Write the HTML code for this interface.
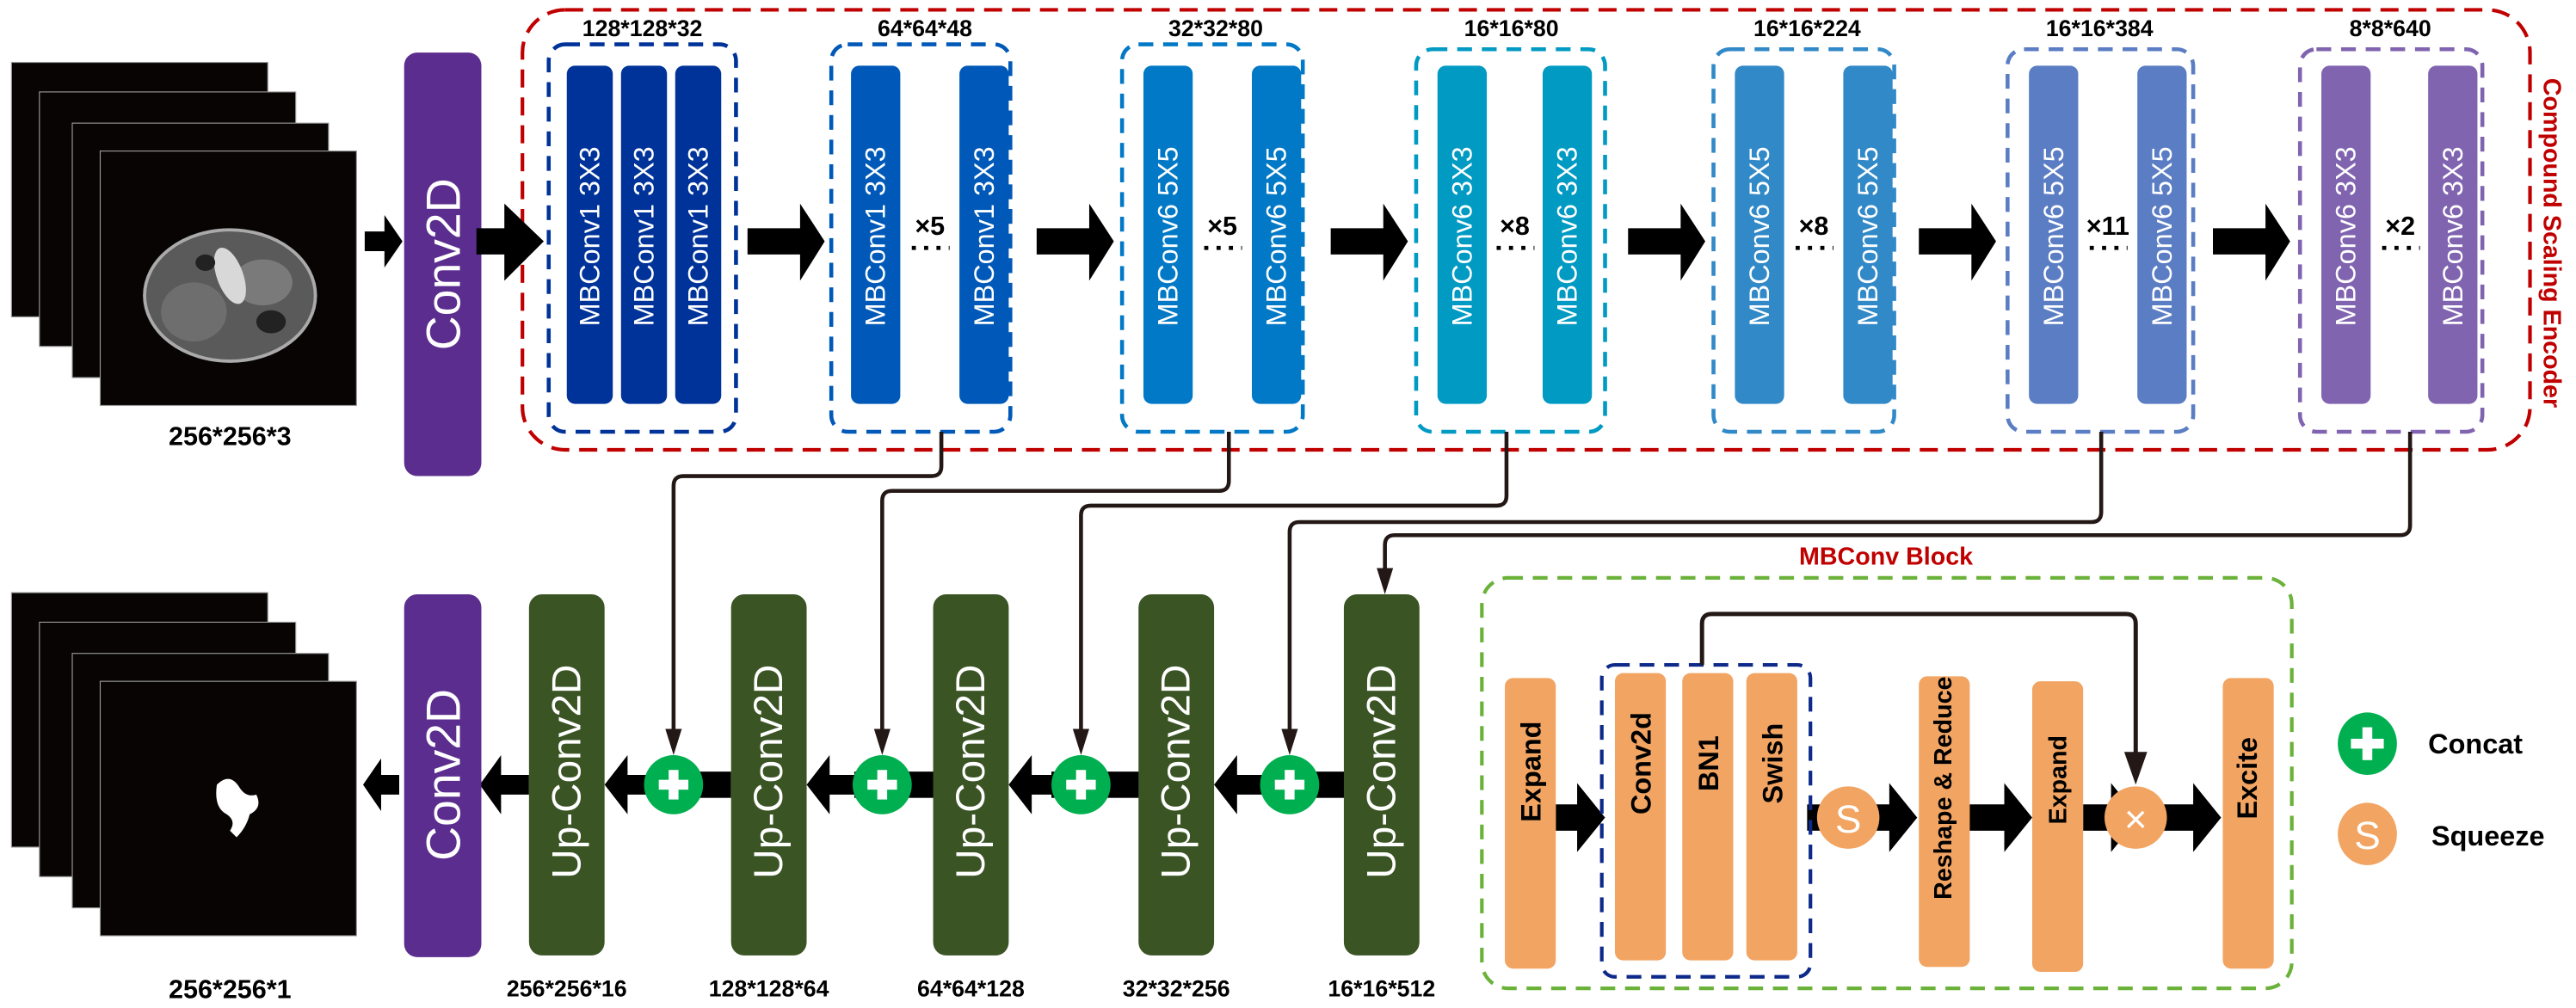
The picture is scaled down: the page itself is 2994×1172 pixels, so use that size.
<!DOCTYPE html>
<html><head><meta charset="utf-8"><style>
html,body{margin:0;padding:0;background:#fff;}
svg{display:block;}
text{font-family:"Liberation Sans",Arial,sans-serif;}
.w{fill:#fff;font-size:17px;}
.u{fill:#fff;font-size:25px;}
.lab{font-weight:bold;font-size:14px;fill:#000;font-family:"Liberation Sans Narrow","Liberation Sans",sans-serif;}
.ob{fill:#000;font-weight:bold;font-size:17px;}
.x{fill:#000;font-weight:bold;font-size:16px;font-family:"Liberation Sans Narrow","Liberation Sans",sans-serif;}
</style></head><body>
<svg width="2994" height="1172" viewBox="0 0 1568 614" preserveAspectRatio="none" xmlns="http://www.w3.org/2000/svg">
<!-- input stack -->
<rect x="7" y="38" width="156" height="155" fill="#080404" stroke="#999" stroke-width="0.6"/>
<rect x="24" y="56" width="156" height="155" fill="#080404" stroke="#999" stroke-width="0.6"/>
<rect x="44" y="75" width="156" height="155" fill="#080404" stroke="#999" stroke-width="0.6"/>
<rect x="61" y="92" width="156" height="155" fill="#080404" stroke="#999" stroke-width="0.6"/>
<ellipse cx="140" cy="180" rx="52" ry="40" fill="#5a5a5a" stroke="#aaa" stroke-width="2"/>
<ellipse cx="118" cy="190" rx="20" ry="18" fill="#6e6e6e"/>
<ellipse cx="160" cy="172" rx="18" ry="14" fill="#7a7a7a"/>
<ellipse cx="140" cy="168" rx="8" ry="18" fill="#d8d8d8" transform="rotate(-20 140 168)"/>
<ellipse cx="165" cy="196" rx="9" ry="7" fill="#222"/>
<ellipse cx="125" cy="160" rx="6" ry="5" fill="#222"/>
<text x="140" y="271" text-anchor="middle" class="lab" style="font-size:16px">256*256*3</text>
<!-- output stack -->
<rect x="7" y="361" width="156" height="155" fill="#080404" stroke="#999" stroke-width="0.6"/>
<rect x="24" y="379" width="156" height="155" fill="#080404" stroke="#999" stroke-width="0.6"/>
<rect x="44" y="398" width="156" height="155" fill="#080404" stroke="#999" stroke-width="0.6"/>
<rect x="61" y="415" width="156" height="155" fill="#080404" stroke="#999" stroke-width="0.6"/>
<path d="M132 478 q8 -8 14 2 q4 6 10 4 q4 8 -4 12 q-2 8 -8 14 l-4 -4 q4 -6 -2 -10 q-8 -4 -6 -18z" fill="#fff"/>
<text x="140" y="608" text-anchor="middle" class="lab" style="font-size:16px">256*256*1</text>

<!-- encoder red box -->
<rect x="318" y="6" width="1222" height="268" rx="26" fill="none" stroke="#c00000" stroke-width="2.2" stroke-dasharray="11 6"/>
<text transform="translate(1553 148) rotate(90)" text-anchor="middle" dominant-baseline="central" style="font-weight:bold;font-size:15px;fill:#c00000">Compound Scaling Encoder</text>

<!-- Conv2D top -->
<rect x="246" y="32" width="47" height="258" rx="8" fill="#5b2d8e"/>
<text transform="translate(270 161) rotate(-90)" text-anchor="middle" dominant-baseline="central" class="w" style="font-size:29px">Conv2D</text>

<!-- big arrows top -->
<g fill="#000">
<polygon points="222,141 234,141 234,131 245,147 234,163 234,153 222,153"/>
<polygon points="290,139 307,139 307,124 331,147 307,171 307,155 290,155"/>
<polygon points="455,139 487,139 487,124 502,147 487,171 487,155 455,155"/>
<polygon points="631,139 663,139 663,124 678,147 663,171 663,155 631,155"/>
<polygon points="810,139 842,139 842,124 857,147 842,171 842,155 810,155"/>
<polygon points="991,139 1023,139 1023,124 1038,147 1023,171 1023,155 991,155"/>
<polygon points="1168,139 1200,139 1200,124 1215,147 1200,171 1200,155 1168,155"/>
<polygon points="1347,139 1379,139 1379,124 1394,147 1379,171 1379,155 1347,155"/>
</g>

<!-- block1 -->
<text x="391" y="22" text-anchor="middle" class="lab">128*128*32</text>
<rect x="334" y="27" width="114" height="236" rx="10" fill="none" stroke="#003399" stroke-width="2.4" stroke-dasharray="9 6"/>
<rect x="345" y="40" width="28" height="206" rx="5" fill="#003399"/>
<rect x="378" y="40" width="28" height="206" rx="5" fill="#003399"/>
<rect x="411" y="40" width="28" height="206" rx="5" fill="#003399"/>
<text transform="translate(359 144) rotate(-90)" text-anchor="middle" dominant-baseline="central" class="w">MBConv1  3X3</text>
<text transform="translate(392 144) rotate(-90)" text-anchor="middle" dominant-baseline="central" class="w">MBConv1  3X3</text>
<text transform="translate(425 144) rotate(-90)" text-anchor="middle" dominant-baseline="central" class="w">MBConv1  3X3</text>

<g>
<text x="563" y="22" text-anchor="middle" class="lab">64*64*48</text>
<rect x="506" y="27" width="109" height="236" rx="10" fill="none" stroke="#0059b8" stroke-width="2.4" stroke-dasharray="9 6"/>
<rect x="518" y="40" width="30" height="206" rx="5" fill="#0059b8"/>
<rect x="584" y="40" width="30" height="206" rx="5" fill="#0059b8"/>
<text transform="translate(533 144) rotate(-90)" text-anchor="middle" dominant-baseline="central" class="w">MBConv1  3X3</text>
<text transform="translate(599 144) rotate(-90)" text-anchor="middle" dominant-baseline="central" class="w">MBConv1  3X3</text>
<text x="566" y="143" text-anchor="middle" class="x">×5</text>
<line x1="555" y1="151" x2="578" y2="151" stroke="#000" stroke-width="2.5" stroke-dasharray="2.5 5"/>
</g>
<g>
<text x="740" y="22" text-anchor="middle" class="lab">32*32*80</text>
<rect x="683" y="27" width="110" height="236" rx="10" fill="none" stroke="#0279c6" stroke-width="2.4" stroke-dasharray="9 6"/>
<rect x="696" y="40" width="30" height="206" rx="5" fill="#0279c6"/>
<rect x="762" y="40" width="30" height="206" rx="5" fill="#0279c6"/>
<text transform="translate(711 144) rotate(-90)" text-anchor="middle" dominant-baseline="central" class="w">MBConv6  5X5</text>
<text transform="translate(777 144) rotate(-90)" text-anchor="middle" dominant-baseline="central" class="w">MBConv6  5X5</text>
<text x="744" y="143" text-anchor="middle" class="x">×5</text>
<line x1="733" y1="151" x2="756" y2="151" stroke="#000" stroke-width="2.5" stroke-dasharray="2.5 5"/>
</g>
<g>
<text x="920" y="22" text-anchor="middle" class="lab">16*16*80</text>
<rect x="862" y="30" width="115" height="233" rx="10" fill="none" stroke="#009ac3" stroke-width="2.4" stroke-dasharray="9 6"/>
<rect x="875" y="40" width="30" height="206" rx="5" fill="#009ac3"/>
<rect x="939" y="40" width="30" height="206" rx="5" fill="#009ac3"/>
<text transform="translate(890 144) rotate(-90)" text-anchor="middle" dominant-baseline="central" class="w">MBConv6  3X3</text>
<text transform="translate(954 144) rotate(-90)" text-anchor="middle" dominant-baseline="central" class="w">MBConv6  3X3</text>
<text x="922" y="143" text-anchor="middle" class="x">×8</text>
<line x1="911" y1="151" x2="934" y2="151" stroke="#000" stroke-width="2.5" stroke-dasharray="2.5 5"/>
</g>
<g>
<text x="1100" y="22" text-anchor="middle" class="lab">16*16*224</text>
<rect x="1043" y="30" width="110" height="233" rx="10" fill="none" stroke="#3189c8" stroke-width="2.4" stroke-dasharray="9 6"/>
<rect x="1056" y="40" width="30" height="206" rx="5" fill="#3189c8"/>
<rect x="1122" y="40" width="30" height="206" rx="5" fill="#3189c8"/>
<text transform="translate(1071 144) rotate(-90)" text-anchor="middle" dominant-baseline="central" class="w">MBConv6  5X5</text>
<text transform="translate(1137 144) rotate(-90)" text-anchor="middle" dominant-baseline="central" class="w">MBConv6  5X5</text>
<text x="1104" y="143" text-anchor="middle" class="x">×8</text>
<line x1="1093" y1="151" x2="1116" y2="151" stroke="#000" stroke-width="2.5" stroke-dasharray="2.5 5"/>
</g>
<g>
<text x="1278" y="22" text-anchor="middle" class="lab">16*16*384</text>
<rect x="1222" y="30" width="113" height="233" rx="10" fill="none" stroke="#5b7dc4" stroke-width="2.4" stroke-dasharray="9 6"/>
<rect x="1235" y="40" width="30" height="206" rx="5" fill="#5b7dc4"/>
<rect x="1301" y="40" width="30" height="206" rx="5" fill="#5b7dc4"/>
<text transform="translate(1250 144) rotate(-90)" text-anchor="middle" dominant-baseline="central" class="w">MBConv6  5X5</text>
<text transform="translate(1316 144) rotate(-90)" text-anchor="middle" dominant-baseline="central" class="w">MBConv6  5X5</text>
<text x="1283" y="143" text-anchor="middle" class="x">×11</text>
<line x1="1272" y1="151" x2="1295" y2="151" stroke="#000" stroke-width="2.5" stroke-dasharray="2.5 5"/>
</g>
<g>
<text x="1455" y="22" text-anchor="middle" class="lab">8*8*640</text>
<rect x="1400" y="30" width="111" height="233" rx="10" fill="none" stroke="#8064b0" stroke-width="2.4" stroke-dasharray="9 6"/>
<rect x="1413" y="40" width="30" height="206" rx="5" fill="#8064b0"/>
<rect x="1478" y="40" width="30" height="206" rx="5" fill="#8064b0"/>
<text transform="translate(1428 144) rotate(-90)" text-anchor="middle" dominant-baseline="central" class="w">MBConv6  3X3</text>
<text transform="translate(1493 144) rotate(-90)" text-anchor="middle" dominant-baseline="central" class="w">MBConv6  3X3</text>
<text x="1461" y="143" text-anchor="middle" class="x">×2</text>
<line x1="1450" y1="151" x2="1473" y2="151" stroke="#000" stroke-width="2.5" stroke-dasharray="2.5 5"/>
</g>

<!-- skip connections -->
<g fill="none" stroke="#231815" stroke-width="2.4">
<path d="M573 263 V284 q0 6 -6 6 H416 q-6 0 -6 6 V445"/>
<path d="M748 263 V293 q0 6 -6 6 H543 q-6 0 -6 6 V445"/>
<path d="M917 263 V302 q0 6 -6 6 H664 q-6 0 -6 6 V445"/>
<path d="M1279 263 V312 q0 6 -6 6 H791 q-6 0 -6 6 V445"/>
<path d="M1467 263 V320 q0 6 -6 6 H849 q-6 0 -6 6 V348"/>
</g>
<g fill="#231815">
<polygon points="405,444 415,444 410,460"/>
<polygon points="532,444 542,444 537,460"/>
<polygon points="653,444 663,444 658,460"/>
<polygon points="780,444 790,444 785,460"/>
<polygon points="838,346 848,346 843,362"/>
</g>

<!-- decoder -->
<g fill="#000">
<polygon points="243,472 232,472 232,462 221,478 232,494 232,484 243,484"/>
<polygon points="322,472 305,472 305,460 292,478 305,496 305,484 322,484"/>
<rect x="395" y="470" width="50" height="16"/>
<polygon points="400,472 382,472 382,460 368,478 382,496 382,484 400,484"/>
<rect x="520" y="470" width="50" height="16"/>
<polygon points="525,472 505,472 505,460 491,478 505,496 505,484 525,484"/>
<rect x="640" y="470" width="55" height="16"/>
<polygon points="645,472 628,472 628,460 614,478 628,496 628,484 645,484"/>
<rect x="770" y="470" width="50" height="16"/>
<polygon points="775,472 753,472 753,460 739,478 753,496 753,484 775,484"/>
</g>
<rect x="246" y="362" width="47" height="221" rx="8" fill="#5b2d8e"/>
<text transform="translate(270 472) rotate(-90)" text-anchor="middle" dominant-baseline="central" class="w" style="font-size:29px">Conv2D</text>
<g fill="#3a5424">
<rect x="322" y="362" width="46" height="220" rx="8"/>
<rect x="445" y="362" width="46" height="220" rx="8"/>
<rect x="568" y="362" width="46" height="220" rx="8"/>
<rect x="693" y="362" width="46" height="220" rx="8"/>
<rect x="818" y="362" width="46" height="220" rx="8"/>
</g>
<text transform="translate(345 470) rotate(-90)" text-anchor="middle" dominant-baseline="central" class="u">Up-Conv2D</text>
<text transform="translate(468 470) rotate(-90)" text-anchor="middle" dominant-baseline="central" class="u">Up-Conv2D</text>
<text transform="translate(591 470) rotate(-90)" text-anchor="middle" dominant-baseline="central" class="u">Up-Conv2D</text>
<text transform="translate(716 470) rotate(-90)" text-anchor="middle" dominant-baseline="central" class="u">Up-Conv2D</text>
<text transform="translate(841 470) rotate(-90)" text-anchor="middle" dominant-baseline="central" class="u">Up-Conv2D</text>
<g fill="#00b050">
<circle cx="410" cy="478" r="18"/>
<circle cx="537" cy="478" r="18"/>
<circle cx="658" cy="478" r="18"/>
<circle cx="785" cy="478" r="18"/>
</g>
<g fill="#fff">
<rect x="407" y="469" width="6" height="18"/><rect x="401" y="475" width="18" height="6"/>
<rect x="534" y="469" width="6" height="18"/><rect x="528" y="475" width="18" height="6"/>
<rect x="655" y="469" width="6" height="18"/><rect x="649" y="475" width="18" height="6"/>
<rect x="782" y="469" width="6" height="18"/><rect x="776" y="475" width="18" height="6"/>
</g>
<text x="345" y="607" text-anchor="middle" class="lab">256*256*16</text>
<text x="468" y="607" text-anchor="middle" class="lab">128*128*64</text>
<text x="591" y="607" text-anchor="middle" class="lab">64*64*128</text>
<text x="716" y="607" text-anchor="middle" class="lab">32*32*256</text>
<text x="841" y="607" text-anchor="middle" class="lab">16*16*512</text>

<!-- MBConv block -->
<text x="1148" y="344" text-anchor="middle" class="lab" style="fill:#c00000;font-size:15px">MBConv Block</text>
<rect x="902" y="352" width="493" height="250" rx="16" fill="none" stroke="#6ab23a" stroke-width="2.2" stroke-dasharray="9 6"/>
<g fill="#000">
<polygon points="947,490 960,490 960,477 977,498 960,519 960,506 947,506"/>
<rect x="1100" y="490" width="10" height="16"/>
<polygon points="1140,490 1150,490 1150,477 1167,498 1150,519 1150,506 1140,506"/>
<polygon points="1198,490 1220,490 1220,477 1237,498 1220,519 1220,506 1198,506"/>
<polygon points="1268,490 1285,490 1285,477 1302,498 1285,519 1285,506 1268,506"/>
<polygon points="1310,490 1335,490 1335,477 1352,498 1335,519 1335,506 1310,506"/>
</g>
<rect x="975" y="405" width="127" height="190" rx="8" fill="none" stroke="#0d2a8a" stroke-width="2.2" stroke-dasharray="9 6"/>
<g fill="#f2a462">
<rect x="916" y="413" width="31" height="177" rx="5"/>
<rect x="983" y="410" width="31" height="175" rx="5"/>
<rect x="1024" y="410" width="31" height="175" rx="5"/>
<rect x="1063" y="410" width="31" height="175" rx="5"/>
<rect x="1168" y="412" width="31" height="177" rx="5"/>
<rect x="1237" y="415" width="31" height="177" rx="5"/>
<rect x="1353" y="413" width="31" height="177" rx="5"/>
<circle cx="1125" cy="498" r="19"/>
<circle cx="1300" cy="498" r="19"/>
</g>
<path d="M1036 405 V380 q0 -6 6 -6 H1294 q6 0 6 6 V460" fill="none" stroke="#231815" stroke-width="2.6"/>
<polygon points="1293,458 1307,458 1300,478" fill="#231815"/>
<text x="1125" y="507" text-anchor="middle" style="fill:#fff;font-size:24px">S</text>
<text x="1300" y="507" text-anchor="middle" style="fill:#fff;font-size:24px">×</text>
<text transform="translate(932 470) rotate(-90)" text-anchor="middle" dominant-baseline="central" class="ob">Expand</text>
<text transform="translate(999 465) rotate(-90)" text-anchor="middle" dominant-baseline="central" class="ob">Conv2d</text>
<text transform="translate(1040 465) rotate(-90)" text-anchor="middle" dominant-baseline="central" class="ob">BN1</text>
<text transform="translate(1079 465) rotate(-90)" text-anchor="middle" dominant-baseline="central" class="ob">Swish</text>
<text transform="translate(1183 480) rotate(-90)" text-anchor="middle" dominant-baseline="central" class="ob" style="font-size:15px">Reshape &amp; Reduce</text>
<text transform="translate(1253 475) rotate(-90)" text-anchor="middle" dominant-baseline="central" class="ob" style="font-size:15px">Expand</text>
<text transform="translate(1368 474) rotate(-90)" text-anchor="middle" dominant-baseline="central" class="ob">Excite</text>

<!-- legend -->
<ellipse cx="1441" cy="453" rx="18" ry="19" fill="#00b050"/>
<rect x="1438" y="443" width="6" height="20" fill="#fff"/><rect x="1431" y="450" width="20" height="6" fill="#fff"/>
<text x="1478" y="459" class="lab" style="font-size:17px">Concat</text>
<ellipse cx="1441" cy="508" rx="18" ry="19" fill="#f2a462"/>
<text x="1441" y="517" text-anchor="middle" style="fill:#fff;font-size:24px">S</text>
<text x="1480" y="515" class="lab" style="font-size:17px">Squeeze</text>
</svg>
</body></html>
